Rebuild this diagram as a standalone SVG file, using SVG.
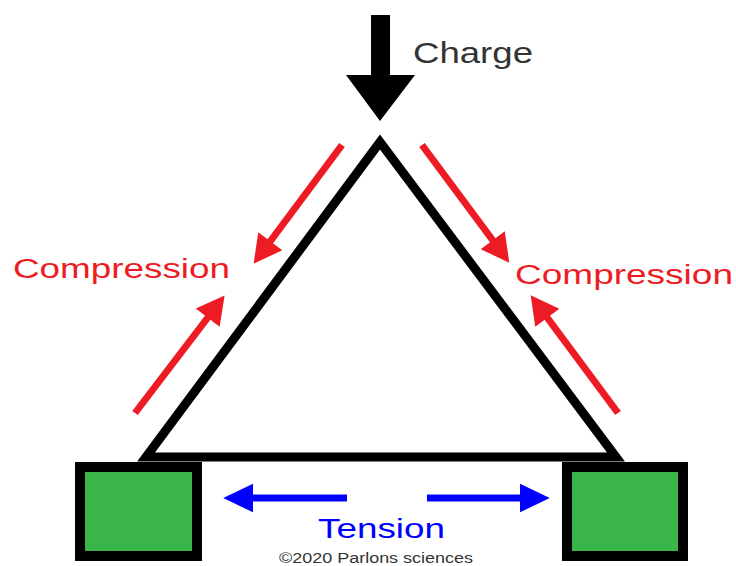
<svg xmlns="http://www.w3.org/2000/svg" width="736" height="566" viewBox="0 0 736 566">
<style>
.lbl{font-family:"Liberation Sans","DejaVu Sans",sans-serif;}
.red{stroke:#ed1c24;stroke-width:7;fill:none;}
.blue{stroke:#0000ff;stroke-width:7;fill:none;}
.box{fill:#39b54a;stroke:#000;stroke-width:10;}
</style>
<defs>
<marker id="hr" markerUnits="userSpaceOnUse" markerWidth="30" markerHeight="30" viewBox="0 0 26 28" refX="2" refY="14" orient="auto">
<path d="M0,0 L26,14 L0,28 Z" fill="#ed1c24"/>
</marker>
<marker id="hb" markerUnits="userSpaceOnUse" markerWidth="30" markerHeight="30" viewBox="0 0 27 26" refX="2" refY="13" orient="auto">
<path d="M0,0 L27,13 L0,26 Z" fill="#0000ff"/>
</marker>
</defs>
<rect width="736" height="566" fill="#fff"/>
<g id="truss">
<path d="M380,142 L146,457 L616,457 Z" fill="#fff" stroke="#000" stroke-width="9" stroke-linejoin="miter"/>
</g>
<g id="support-left"><rect class="box" x="80" y="467" width="117" height="89"/></g>
<g id="support-right"><rect class="box" x="567" y="467" width="116" height="89"/></g>
<g id="charge">
<path d="M371,15 H390 V75 H415 L380,121 L346,75 H371 Z" fill="#000"/>
<text class="lbl" x="413" y="63" font-size="29" fill="#333" textLength="120" lengthAdjust="spacingAndGlyphs">Charge</text>
</g>
<g id="connectors">
<line class="red" x1="342" y1="145" x2="269" y2="243" marker-end="url(#hr)"/>
<line class="red" x1="135" y1="413" x2="209" y2="316" marker-end="url(#hr)"/>
<line class="red" x1="422" y1="145" x2="494" y2="242" marker-end="url(#hr)"/>
<line class="red" x1="618" y1="413" x2="546" y2="316" marker-end="url(#hr)"/>
<line class="blue" x1="347" y1="498" x2="251" y2="498" marker-end="url(#hb)"/>
<line class="blue" x1="427" y1="498" x2="522" y2="498" marker-end="url(#hb)"/>
</g>
<g id="labels">
<text class="lbl" x="13" y="278" font-size="27" fill="#ed1c24" textLength="217" lengthAdjust="spacingAndGlyphs">Compression</text>
<text class="lbl" x="515" y="284" font-size="27" fill="#ed1c24" textLength="218" lengthAdjust="spacingAndGlyphs">Compression</text>
<text class="lbl" x="318" y="538" font-size="28" fill="#0000ff" textLength="127" lengthAdjust="spacingAndGlyphs">Tension</text>
<text class="lbl" x="279" y="563" font-size="14" fill="#333" textLength="194" lengthAdjust="spacingAndGlyphs">©2020 Parlons sciences</text>
</g>
</svg>
